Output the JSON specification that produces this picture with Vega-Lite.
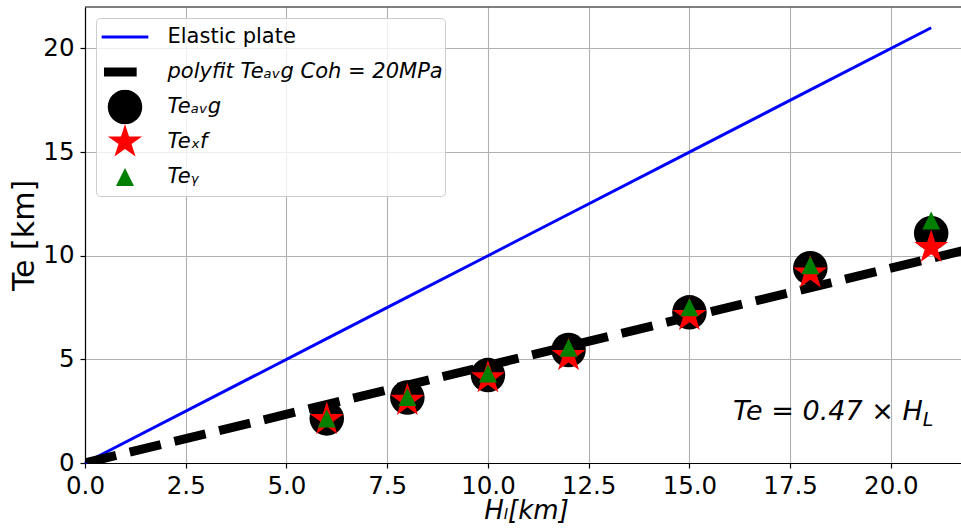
{
  "$schema": "https://vega.github.io/schema/vega-lite/v6.json",
  "autosize": {"type": "none"},
  "padding": {"left": 85, "top": 7, "right": 0, "bottom": 68},
  "width": 876,
  "height": 456,
  "background": "white",
  "config": {
    "font": "DejaVu Sans",
    "view": {"stroke": null},
    "axis": {
      "domainColor": "black", "domainWidth": 1.2,
      "tickColor": "black", "tickWidth": 1.2, "tickSize": 5,
      "gridColor": "#b0b0b0", "gridWidth": 1.1, "gridOpacity": 1,
      "labelFont": "DejaVu Sans", "labelFontSize": 24.5, "labelColor": "black",
      "titleFont": "DejaVu Sans", "titleFontWeight": "normal", "titleColor": "black"
    },
    "legend": {
      "orient": "top-left", "offset": 11, "padding": 1.5,
      "strokeColor": "#cccccc", "cornerRadius": 4, "fillColor": "rgba(255,255,255,0.8)",
      "labelFont": "DejaVu Sans", "labelFontSize": 21, "labelColor": "black", "labelLimit": 600,
      "symbolSize": 2180, "symbolStrokeWidth": 0, "symbolOffset": 4, "labelOffset": 19,
      "rowPadding": 0, "clipHeight": 35, "gridAlign": "all"
    }
  },
  "data": {
    "values": [
      {"s": "plate", "H": 0, "Te": 0},
      {"s": "plate", "H": 6, "Te": 6},
      {"s": "plate", "H": 8, "Te": 8},
      {"s": "plate", "H": 10, "Te": 10},
      {"s": "plate", "H": 12, "Te": 12},
      {"s": "plate", "H": 15, "Te": 15},
      {"s": "plate", "H": 18, "Te": 18},
      {"s": "plate", "H": 21, "Te": 21},
      {"s": "fit", "H": 0, "Te": 0},
      {"s": "fit", "H": 22, "Te": 10.34},
      {"s": "avg", "H": 6, "Te": 2.15},
      {"s": "avg", "H": 8, "Te": 3.16},
      {"s": "avg", "H": 10, "Te": 4.24},
      {"s": "avg", "H": 12, "Te": 5.45},
      {"s": "avg", "H": 15, "Te": 7.27},
      {"s": "avg", "H": 18, "Te": 9.4},
      {"s": "avg", "H": 21, "Te": 11.09},
      {"s": "xf", "H": 6, "Te": 2.1},
      {"s": "xf", "H": 8, "Te": 3.02},
      {"s": "xf", "H": 10, "Te": 4.11},
      {"s": "xf", "H": 12, "Te": 5.18},
      {"s": "xf", "H": 15, "Te": 7.12},
      {"s": "xf", "H": 18, "Te": 9.17},
      {"s": "xf", "H": 21, "Te": 10.4},
      {"s": "gamma", "H": 6, "Te": 2.15},
      {"s": "gamma", "H": 8, "Te": 3.19},
      {"s": "gamma", "H": 10, "Te": 4.32},
      {"s": "gamma", "H": 12, "Te": 5.56},
      {"s": "gamma", "H": 15, "Te": 7.52},
      {"s": "gamma", "H": 18, "Te": 9.54},
      {"s": "gamma", "H": 21, "Te": 11.7}
    ]
  },
  "layer": [
    {
      "encoding": {
        "x": {
          "field": "H", "type": "quantitative",
          "scale": {"domain": [0, 21.74], "nice": false, "zero": false},
          "axis": {
            "title": "Hₗ[km]", "titleFontStyle": "italic", "titleFontSize": 26,
            "values": [0, 2.5, 5, 7.5, 10, 12.5, 15, 17.5, 20], "format": ".1f",
            "labelFlush": false, "labelOverlap": false, "labelPadding": 6, "titlePadding": 0, "titleX": 441
          }
        },
        "y": {
          "field": "Te", "type": "quantitative",
          "scale": {"domain": [0, 22], "nice": false},
          "axis": {
            "title": "Te [km]", "titleFontSize": 30,
            "values": [0, 5, 10, 15, 20], "format": "d",
            "labelPadding": 6, "titlePadding": 3
          }
        },
        "color": {
          "field": "s", "type": "nominal",
          "scale": {
            "domain": ["plate", "fit", "avg", "xf", "gamma"],
            "range": ["#0000ff", "#000000", "#000000", "#ff0000", "#008000"]
          },
          "legend": {
            "title": null,
            "symbolSize": 2180,
            "symbolStrokeWidth": 0,
            "clipHeight": 35,
            "labelExpr": "datum.value === 'plate' ? 'Elastic plate' : datum.value === 'fit' ? 'polyfit Teₐᵥg Coh = 20MPa' : datum.value === 'avg' ? 'Teₐᵥg' : datum.value === 'xf' ? 'Teₓf' : 'Teᵧ'",
            "encode": {
              "symbols": {
                "update": {
                  "shape": {"signal": "datum.value === 'plate' ? 'M-1,-0.064L1,-0.064L1,0.064L-1,0.064Z' : datum.value === 'fit' ? 'M-0.9,-0.197L0.5,-0.197L0.5,0.197L-0.9,0.197Z' : datum.value === 'avg' ? 'M0.739,0A0.739,0.739,0,1,1,-0.739,0A0.739,0.739,0,1,1,0.739,0Z' : datum.value === 'xf' ? 'M0,-0.771L0.1731,-0.2383L0.7333,-0.2383L0.2801,0.091L0.4532,0.6237L0,0.2945L-0.4532,0.6237L-0.2801,0.091L-0.7333,-0.2383L-0.1731,-0.2383Z' : 'M0,-0.385L0.385,0.385L-0.385,0.385Z'"},
                  "size": {"value": 2180},
                  "strokeWidth": {"value": 0},
                  "fill": {"signal": "datum.value === 'plate' ? '#0000ff' : datum.value === 'xf' ? '#ff0000' : datum.value === 'gamma' ? '#008000' : '#000000'"},
                  "stroke": {"value": "transparent"},
                  "opacity": {"value": 1},
                  "fillOpacity": {"value": 1}
                }
              },
              "labels": {
                "update": {
                  "fontStyle": {"signal": "datum.value === 'plate' ? 'normal' : 'italic'"}
                }
              }
            }
          }
        }
      },
      "layer": [
        {
          "transform": [{"filter": "datum.s === 'plate'"}],
          "mark": {"type": "line", "strokeWidth": 3}
        },
        {
          "transform": [{"filter": "datum.s === 'fit'"}],
          "mark": {"type": "line", "strokeWidth": 9, "strokeDash": [32, 14], "strokeCap": "butt", "clip": true}
        },
        {
          "transform": [{"filter": "datum.s === 'avg'"}],
          "mark": {"type": "point", "shape": "circle", "filled": true, "size": 1190, "opacity": 1}
        },
        {
          "transform": [{"filter": "datum.s === 'xf'"}],
          "mark": {"type": "point", "shape": "M0,-1L0.2245,-0.309L0.9511,-0.309L0.3633,0.118L0.5878,0.809L0,0.382L-0.5878,0.809L-0.3633,0.118L-0.9511,-0.309L-0.2245,-0.309Z", "filled": true, "size": 1282, "opacity": 1}
        },
        {
          "transform": [{"filter": "datum.s === 'gamma'"}],
          "mark": {"type": "point", "shape": "M0,-1L1,1L-1,1Z", "filled": true, "size": 324, "opacity": 1}
        }
      ]
    },
    {
      "data": {"values": [{"k": "top"}]},
      "mark": {"type": "rule", "color": "black", "strokeWidth": 1.2},
      "encoding": {"y": {"datum": 22, "type": "quantitative"}}
    },
    {
      "data": {"values": [{"t": "Te = 0.47 × H"}]},
      "mark": {"type": "text", "align": "right", "baseline": "alphabetic", "fontSize": 27, "fontStyle": "italic", "font": "DejaVu Sans", "color": "black"},
      "encoding": {
        "x": {"datum": 20.79, "type": "quantitative"},
        "y": {"datum": 2.07, "type": "quantitative"},
        "text": {"field": "t"}
      }
    },
    {
      "data": {"values": [{"t": "L"}]},
      "mark": {"type": "text", "align": "left", "baseline": "alphabetic", "fontSize": 19, "fontStyle": "italic", "font": "DejaVu Sans", "color": "black", "dy": 6},
      "encoding": {
        "x": {"datum": 20.79, "type": "quantitative"},
        "y": {"datum": 2.07, "type": "quantitative"},
        "text": {"field": "t"}
      }
    }
  ]
}
